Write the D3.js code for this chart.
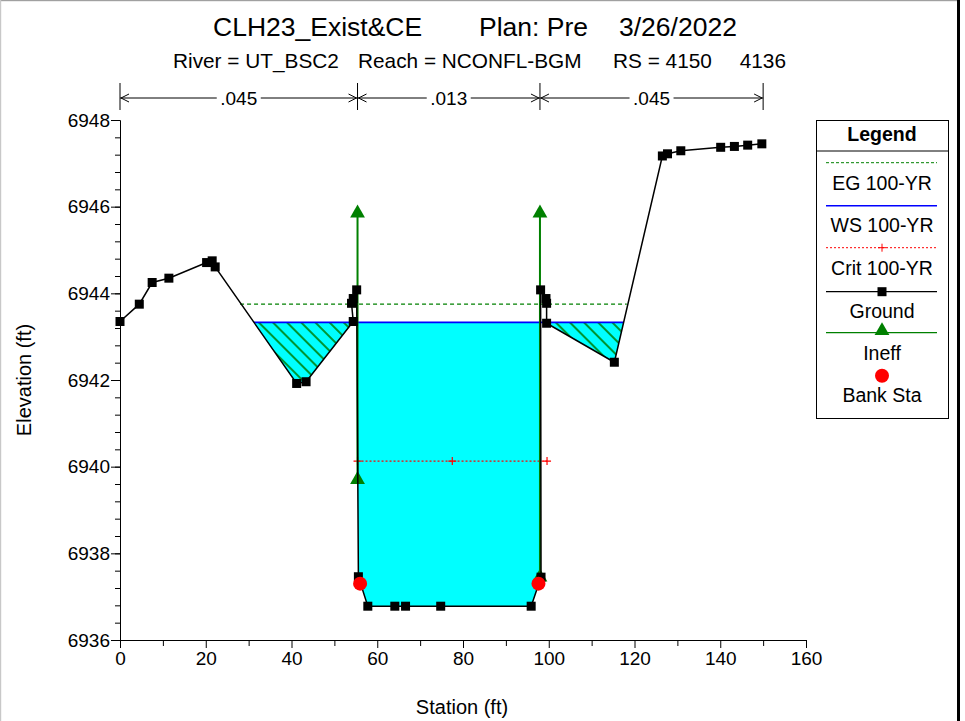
<!DOCTYPE html>
<html><head><meta charset="utf-8">
<script src="https://cdn.jsdelivr.net/npm/d3@7"></script>
<style>
html,body{margin:0;padding:0;background:#fff;}
svg{display:block;font-family:"Liberation Sans",Arial,sans-serif;}
</style></head>
<body>
<svg id="c" width="965" height="721"></svg>
<script>
// ---- data ----
const groundSta  = [0,4.5,7.5,11.4,20.2,21.5,22.2,41.2,43.4,54.4,54.0,54.4,55.2,55.6,57.8,64.1,66.6,74.8,95.9,98.2,98.1,99.35,99.5,99.5,115.3,126.5,127.7,130.8,140.1,143.3,146.4,149.7];
const groundElev = [6943.35,6943.75,6944.25,6944.35,6944.71,6944.75,6944.61,6941.92,6941.96,6943.35,6943.77,6943.88,6944.08,6937.46,6936.78,6936.78,6936.78,6936.78,6936.78,6937.45,6944.08,6943.88,6943.77,6943.31,6942.41,6947.17,6947.22,6947.29,6947.37,6947.39,6947.42,6947.45];
const wsElev = 6943.33, wsSta = [31.25, 117.4];
const egElev = 6943.75, egSta = [28, 118.2];
const critElev = 6940.13, critSta = [55.4, 77.5, 99.6];
const ineffSta = [55.4, 97.95], ineffTop = 6945.85, ineffLow = [6939.7, 6937.45];
const bankSta = [56.0, 97.6], bankElev = [6937.3, 6937.3];
const nSta = [0, 55.4, 97.95, 150], nVal = [".045", ".013", ".045"];
const xMajor = [0,20,40,60,80,100,120,140,160];
const yMajor = [6936,6938,6940,6942,6944,6946,6948];
const legendItems = ["EG 100-YR","WS 100-YR","Crit 100-YR","Ground","Ineff","Bank Sta"];

// ---- scales ----
const svg = d3.select("#c");
const x = d3.scaleLinear().domain([0,160]).range([120,806]);
const y = d3.scaleLinear().domain([6936,6948]).range([640,120]);
const ground = groundSta.map((s,i)=>[s,groundElev[i]]);
const F = "Liberation Sans, Arial, sans-serif";
const GREEN = "#008000";

// frame
svg.append("rect").attr("x",0).attr("y",0).attr("width",958).attr("height",1.2).attr("fill","#a0a0a0");
svg.append("rect").attr("x",0).attr("y",0).attr("width",1.2).attr("height",721).attr("fill","#c8c8c8");
svg.append("rect").attr("x",957).attr("y",0).attr("width",3).attr("height",721).attr("fill","#000");

// defs
const defs = svg.append("defs");
const pat = defs.append("pattern").attr("id","hatch").attr("patternUnits","userSpaceOnUse")
  .attr("width",10).attr("height",10).attr("patternTransform","rotate(-45)");
pat.append("rect").attr("width",10).attr("height",10).attr("fill","#00ffff");
pat.append("line").attr("x1",5).attr("y1",-1).attr("x2",5).attr("y2",11).attr("stroke","#007a00").attr("stroke-width",1.6);
const abovePoly = ground.map(d=>[x(d[0]),y(d[1])]);
abovePoly.push([x(ground[ground.length-1][0]), 0],[x(0),0]);
defs.append("clipPath").attr("id","above").append("path").attr("d","M"+abovePoly.join("L")+"Z");

// water fills
const fillG = svg.append("g").attr("clip-path","url(#above)");
fillG.append("rect").attr("x",x(0)).attr("y",y(wsElev)).attr("width",x(ineffSta[0])-x(0)).attr("height",y(6936)-y(wsElev)).attr("fill","url(#hatch)");
fillG.append("rect").attr("x",x(ineffSta[1])).attr("y",y(wsElev)).attr("width",x(150)-x(ineffSta[1])).attr("height",y(6936)-y(wsElev)).attr("fill","url(#hatch)");
fillG.append("rect").attr("x",x(ineffSta[0])).attr("y",y(wsElev)).attr("width",x(ineffSta[1])-x(ineffSta[0])).attr("height",y(6936)-y(wsElev)).attr("fill","#00ffff");

// axes
const yAx = svg.append("g").attr("transform","translate(120,0)");
yAx.call(d3.axisLeft(y).tickValues(d3.range(6936,6948.01,0.4)).tickSize(5).tickSizeOuter(0).tickFormat(""));
const yAx2 = svg.append("g").attr("transform","translate(120,0)");
yAx2.call(d3.axisLeft(y).tickValues(yMajor).tickSize(9).tickSizeOuter(0).tickFormat(d3.format("d")));
yAx2.selectAll("text").attr("font-family",F).attr("font-size",19).attr("x",-10).attr("fill","#000");
const xAx = svg.append("g").attr("transform","translate(0,640)");
xAx.call(d3.axisBottom(x).tickValues(d3.range(10,160,20)).tickSize(6).tickSizeOuter(0).tickFormat(""));
const xAx2 = svg.append("g").attr("transform","translate(0,640)");
xAx2.call(d3.axisBottom(x).tickValues(xMajor).tickSize(8).tickSizeOuter(0));
xAx2.selectAll("text").attr("font-family",F).attr("font-size",19).attr("y",12).attr("fill","#000");
svg.selectAll(".domain").attr("stroke","#000");
svg.selectAll(".tick line").attr("stroke","#000");

// axis titles
svg.append("text").attr("x",462).attr("y",714).attr("text-anchor","middle").attr("font-family",F).attr("font-size",20).text("Station (ft)");
svg.append("text").attr("transform","translate(31,380) rotate(-90)").attr("text-anchor","middle").attr("font-family",F).attr("font-size",20).text("Elevation (ft)");

// titles
const t1 = svg.append("g").attr("font-family",F).attr("font-size",26.5);
t1.append("text").attr("x",213).attr("y",36).text("CLH23_Exist&CE");
t1.append("text").attr("x",479).attr("y",36).text("Plan: Pre");
t1.append("text").attr("x",619).attr("y",36).text("3/26/2022");
const t2 = svg.append("g").attr("font-family",F).attr("font-size",20.8);
t2.append("text").attr("x",173).attr("y",68).text("River = UT_BSC2");
t2.append("text").attr("x",358).attr("y",68).text("Reach = NCONFL-BGM");
t2.append("text").attr("x",613).attr("y",68).text("RS = 4150");
t2.append("text").attr("x",786).attr("y",68).attr("text-anchor","end").text("4136");

// Manning's n markers
const nG = svg.append("g");
nSta.forEach(s=>nG.append("line").attr("x1",x(s)).attr("x2",x(s)).attr("y1",83).attr("y2",110).attr("stroke","#000"));
nVal.forEach((v,i)=>{
  const a=x(nSta[i]), b=x(nSta[i+1]), m=(a+b)/2, ty=98;
  const tw = 40;
  nG.append("line").attr("x1",a).attr("x2",m-tw/2-2).attr("y1",ty).attr("y2",ty).attr("stroke","#000");
  nG.append("line").attr("x1",m+tw/2+2).attr("x2",b).attr("y1",ty).attr("y2",ty).attr("stroke","#000");
  nG.append("path").attr("d",`M${a+9},${ty-4}L${a+1},${ty}L${a+9},${ty+4}`).attr("fill","none").attr("stroke","#000");
  nG.append("path").attr("d",`M${b-9},${ty-4}L${b-1},${ty}L${b-9},${ty+4}`).attr("fill","none").attr("stroke","#000");
  nG.append("text").attr("x",m).attr("y",ty+7).attr("text-anchor","middle").attr("font-family",F).attr("font-size",19).text(v);
});

// lines
svg.append("line").attr("x1",x(egSta[0])).attr("x2",x(egSta[1])).attr("y1",y(egElev)).attr("y2",y(egElev)).attr("stroke",GREEN).attr("stroke-width",1.2).attr("stroke-dasharray","4,3");
svg.append("line").attr("x1",x(wsSta[0])).attr("x2",x(wsSta[1])).attr("y1",y(wsElev)).attr("y2",y(wsElev)).attr("stroke","#0000ff").attr("stroke-width",1.6);
svg.append("line").attr("x1",x(critSta[0])).attr("x2",x(critSta[2])).attr("y1",y(critElev)).attr("y2",y(critElev)).attr("stroke","#ff0000").attr("stroke-width",1.2).attr("stroke-dasharray","2,2");
critSta.forEach(s=>{
  const cx=x(s), cy=y(critElev);
  svg.append("path").attr("d",`M${cx-4},${cy}H${cx+4}M${cx},${cy-4}V${cy+4}`).attr("stroke","#ff0000").attr("stroke-width",1.2);
});

// ineffective
const tri = d3.symbol().type(d3.symbolTriangle).size(95);
ineffSta.forEach((s,i)=>{
  svg.append("line").attr("x1",x(s)).attr("x2",x(s)).attr("y1",y(ineffLow[i])).attr("y2",y(ineffTop)).attr("stroke",GREEN).attr("stroke-width",2);
  [ineffTop, ineffLow[i]].forEach(e=>svg.append("path").attr("d",tri).attr("transform",`translate(${x(s)},${y(e)})`).attr("fill",GREEN));
});

// ground
svg.append("path").attr("d",d3.line().x(d=>x(d[0])).y(d=>y(d[1]))(ground)).attr("fill","none").attr("stroke","#000").attr("stroke-width",1.5);
svg.selectAll(".gpt").data(ground).join("rect").attr("x",d=>x(d[0])-4.5).attr("y",d=>y(d[1])-4.5).attr("width",9).attr("height",9).attr("fill","#000");

// bank stations
bankSta.forEach((s,i)=>svg.append("circle").attr("cx",x(s)).attr("cy",y(bankElev[i])).attr("r",7).attr("fill","#ff0000"));

// legend
const L = svg.append("g");
L.append("rect").attr("x",816.5).attr("y",120.5).attr("width",132).attr("height",298).attr("fill","#fff").attr("stroke","#000");
L.append("line").attr("x1",816.5).attr("x2",948.5).attr("y1",151).attr("y2",151).attr("stroke","#000");
L.append("text").attr("x",882).attr("y",141).attr("text-anchor","middle").attr("font-family",F).attr("font-size",19.5).attr("font-weight","bold").text("Legend");
const lx1=826, lx2=937, lc=882;
const lineY=[162.7,205.7,247.7,291.7,332.7,375.7];
const labY=[190,232,275,318,360,402];
L.append("line").attr("x1",lx1).attr("x2",lx2).attr("y1",lineY[0]).attr("y2",lineY[0]).attr("stroke",GREEN).attr("stroke-dasharray","3,2");
L.append("line").attr("x1",lx1).attr("x2",lx2).attr("y1",lineY[1]).attr("y2",lineY[1]).attr("stroke","#0000ff").attr("stroke-width",1.5);
L.append("line").attr("x1",lx1).attr("x2",lx2).attr("y1",lineY[2]).attr("y2",lineY[2]).attr("stroke","#ff0000").attr("stroke-dasharray","2,2");
L.append("path").attr("d",`M${lc-4},${lineY[2]}H${lc+4}M${lc},${lineY[2]-4}V${lineY[2]+4}`).attr("stroke","#ff0000");
L.append("line").attr("x1",lx1).attr("x2",lx2).attr("y1",lineY[3]).attr("y2",lineY[3]).attr("stroke","#000").attr("stroke-width",1.2);
L.append("rect").attr("x",lc-4.5).attr("y",lineY[3]-4.5).attr("width",9).attr("height",9).attr("fill","#000");
L.append("line").attr("x1",lx1).attr("x2",lx2).attr("y1",lineY[4]).attr("y2",lineY[4]).attr("stroke",GREEN).attr("stroke-width",1.2);
L.append("path").attr("d",tri).attr("transform",`translate(${lc},${lineY[4]-2})`).attr("fill",GREEN);
L.append("circle").attr("cx",lc).attr("cy",lineY[5]).attr("r",7).attr("fill","#ff0000");
legendItems.forEach((t,i)=>L.append("text").attr("x",lc).attr("y",labY[i]).attr("text-anchor","middle").attr("font-family",F).attr("font-size",19.5).text(t));
</script>
</body></html>
